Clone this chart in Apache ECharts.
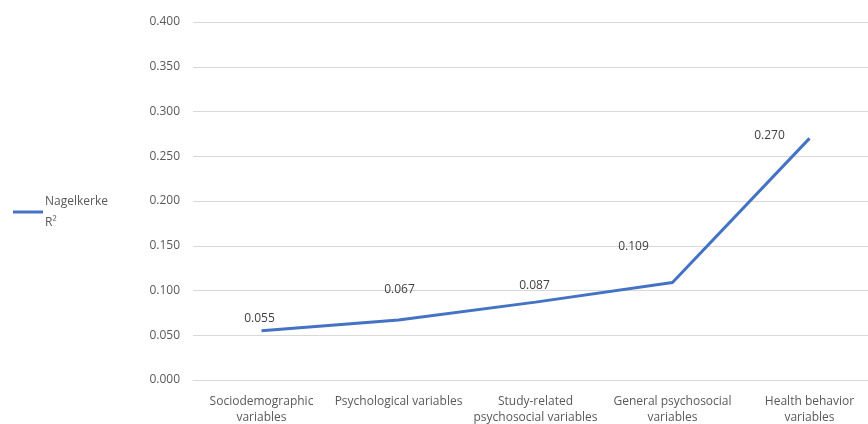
<!DOCTYPE html>
<html><head><meta charset="utf-8">
<script src="https://cdn.jsdelivr.net/npm/echarts@6/dist/echarts.min.js"></script>
<style>html,body{margin:0;padding:0;background:#fff}#c{width:868px;height:424px}</style>
</head><body><div id="c"></div>
<script>
const categories = ["Sociodemographic\nvariables","Psychological variables","Study-related\npsychosocial variables","General psychosocial\nvariables","Health behavior\nvariables"];
const values = [0.055, 0.067, 0.087, 0.109, 0.270];
const seriesName = "Nagelkerke R²";
const labelOffsets = [[-2,-1],[1,-19],[-1,-6],[-39,-25],[-40,8]];
const font = "Open Sans";
const chart = echarts.init(document.getElementById('c'));
chart.setOption({
  animation:false,
  textStyle:{fontFamily:font},
  legend:{left:8, top:178, orient:'vertical', itemWidth:30, itemHeight:3,
    icon:'rect', data:[{name:seriesName, itemStyle:{color:'#4472C4'}}],
    formatter:()=>'Nagelkerke\nR²', itemGap:0,
    textStyle:{color:'#595959', fontSize:12, fontFamily:font, lineHeight:21, padding:[16,0,0,-3]}},
  grid:{left:193, width:685, top:22, height:358, containLabel:false, outerBoundsMode:'none'},
  xAxis:{type:'category', data:categories, boundaryGap:true,
    axisLine:{lineStyle:{color:'#d9d9d9', width:1}}, axisTick:{show:false},
    axisLabel:{color:'#595959', fontSize:12, fontFamily:font, lineHeight:16, margin:14, interval:0}},
  yAxis:{type:'value', min:0, max:0.4, interval:0.05,
    axisLine:{show:false}, axisTick:{show:false},
    splitLine:{lineStyle:{color:'#d9d9d9', width:1}},
    axisLabel:{color:'#595959', fontSize:12, fontFamily:font, margin:13, formatter:v=>v.toFixed(3)}},
  series:[{name:seriesName, type:'line', data:values.map((v,i)=>({value:v,
      label:{offset:labelOffsets[i]}})),
    symbol:'circle', symbolSize:0.1, showSymbol:true, lineStyle:{color:'#4472C4', width:3}, itemStyle:{color:'#4472C4'},
    label:{show:true, position:'top', color:'#404040', fontSize:12, fontFamily:font, formatter:p=>p.value.toFixed(3)}}]
});
</script></body></html>
